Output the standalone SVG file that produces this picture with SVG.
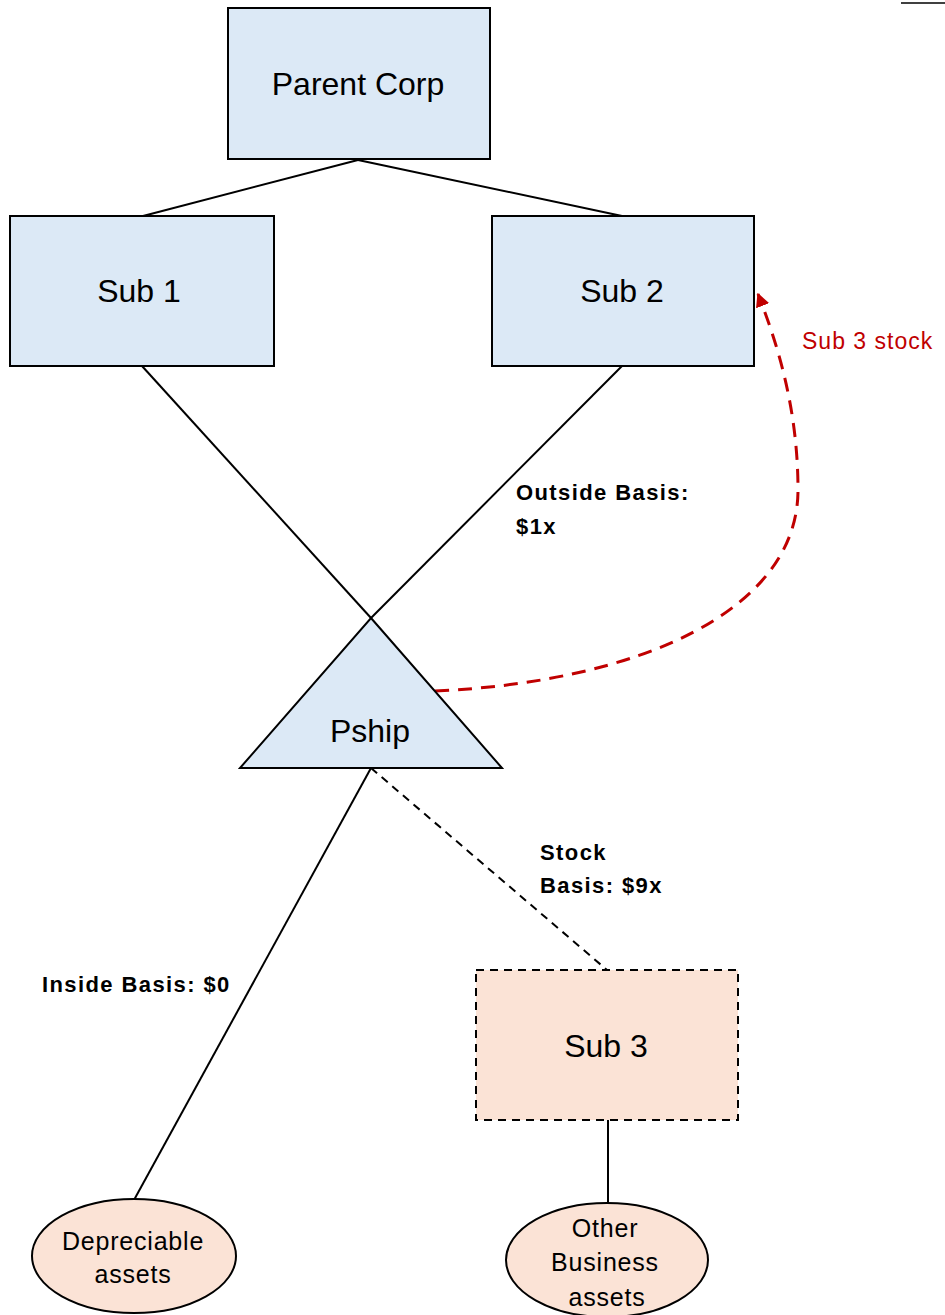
<svg xmlns="http://www.w3.org/2000/svg" width="945" height="1315" viewBox="0 0 945 1315">
<defs>
<style>
.box{fill:#dce9f6;stroke:#000;stroke-width:2}
.peach{fill:#fbe3d6;stroke:#000;stroke-width:2}
.ln{stroke:#000;stroke-width:2;fill:none}
.t{font-family:"Liberation Sans",Arial,sans-serif;font-size:32px;fill:#000;text-anchor:middle}
.e{font-family:"Liberation Sans",Arial,sans-serif;font-size:25px;fill:#000;text-anchor:middle;letter-spacing:0.8px}
.b{font-family:"Liberation Sans",Arial,sans-serif;font-size:22px;font-weight:bold;fill:#000;letter-spacing:1.4px}
.r{font-family:"Liberation Sans",Arial,sans-serif;font-size:23px;fill:#c00000;letter-spacing:1px}
</style>
<marker id="arr" viewBox="0 0 10 10" refX="9" refY="5" markerWidth="14" markerHeight="14" markerUnits="userSpaceOnUse" orient="auto">
<path d="M0,0 L10,5 L0,10 z" fill="#c00000"/>
</marker>
</defs>
<rect width="945" height="1315" fill="#fff"/>
<line x1="901" y1="3" x2="945" y2="3" stroke="#000" stroke-width="1.5"/>
<g id="connectors">
<line class="ln" x1="358" y1="160" x2="143" y2="216"/>
<line class="ln" x1="358" y1="160" x2="622" y2="216"/>
<line class="ln" x1="142" y1="366" x2="371" y2="618"/>
<line class="ln" x1="622" y1="366" x2="371" y2="618"/>
<line class="ln" x1="371" y1="768" x2="607" y2="970" stroke-dasharray="8,6"/>
<line class="ln" x1="371" y1="768" x2="134" y2="1200"/>
<line class="ln" x1="608" y1="1120" x2="608" y2="1204"/>
<path d="M435,691 C640,682 798,610 798,490 C798,410 778,345 758,294" fill="none" stroke="#c00000" stroke-width="3" stroke-dasharray="14,9" marker-end="url(#arr)"/>
</g>
<g id="parent"><rect class="box" x="228" y="8" width="262" height="151"/><text class="t" x="358" y="95">Parent Corp</text></g>
<g id="sub1"><rect class="box" x="10" y="216" width="264" height="150"/><text class="t" x="139" y="302">Sub 1</text></g>
<g id="sub2"><rect class="box" x="492" y="216" width="262" height="150"/><text class="t" x="622" y="302">Sub 2</text></g>
<g id="pship"><polygon class="box" points="371,618 502,768 240,768"/><text class="t" x="370" y="742">Pship</text></g>
<g id="sub3"><rect class="peach" x="476" y="970" width="262" height="150" stroke-dasharray="8,6"/><text class="t" x="606" y="1057">Sub 3</text></g>
<g id="depr"><ellipse class="peach" cx="134" cy="1256" rx="102" ry="57"/><text class="e" x="133" y="1250">Depreciable</text><text class="e" x="133" y="1283">assets</text></g>
<g id="other"><ellipse class="peach" cx="607" cy="1260" rx="101" ry="57"/><text class="e" x="605" y="1237">Other</text><text class="e" x="605" y="1271">Business</text><text class="e" x="607" y="1306">assets</text></g>
<g id="labels">
<text class="b" x="516" y="500">Outside Basis:</text>
<text class="b" x="516" y="534">$1x</text>
<text class="b" x="540" y="860">Stock</text>
<text class="b" x="540" y="893">Basis: $9x</text>
<text class="b" x="42" y="992">Inside Basis: $0</text>
<text class="r" x="802" y="349">Sub 3 stock</text>
</g>
</svg>
